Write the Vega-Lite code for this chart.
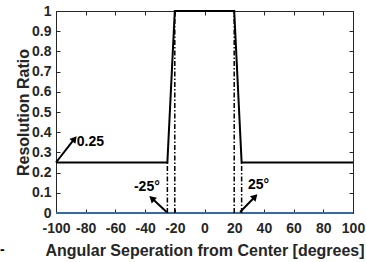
{
  "$schema": "https://vega.github.io/schema/vega-lite/v6.json",
  "width": 297,
  "height": 202,
  "autosize": {"type": "none"},
  "padding": {"left": 56, "top": 11, "right": 13, "bottom": 49},
  "background": "white",
  "config": {
    "view": {"stroke": "#262626", "strokeWidth": 1},
    "font": "Liberation Sans",
    "axis": {
      "labelFont": "Liberation Sans",
      "labelFontWeight": "bold",
      "labelFontSize": 14,
      "labelColor": "#262626",
      "labelFlush": false,
      "titleFont": "Liberation Sans",
      "titleFontWeight": "bold",
      "titleFontSize": 16,
      "titleColor": "#262626",
      "grid": false,
      "domain": false,
      "tickColor": "#262626",
      "tickSize": -4,
      "tickWidth": 1
    }
  },
  "datasets": {
    "curve": [
      {"x": -100, "y": 0.25}, {"x": -25, "y": 0.25}, {"x": -20, "y": 1},
      {"x": 20, "y": 1}, {"x": 25, "y": 0.25}, {"x": 100, "y": 0.25}
    ],
    "baseline": [{"x": -100, "y": 0}, {"x": 100, "y": 0}],
    "dashes": [
      {"x": -25, "y": 0, "y2": 0.25}, {"x": -20, "y": 0, "y2": 1},
      {"x": 20, "y": 0, "y2": 1}, {"x": 25, "y": 0, "y2": 0.25}
    ],
    "arrows": [
      {"id": "a", "x": -100, "y": 0.25, "hx": -88, "hy": 0.363},
      {"id": "b", "x": -25.5, "y": 0.005, "hx": -34.9, "hy": 0.069},
      {"id": "c", "x": 24, "y": 0.005, "hx": 33.5, "hy": 0.077}
    ],
    "labels": [
      {"t": "0.25", "x": -86, "y": 0.35},
      {"t": "-25°", "x": -47.5, "y": 0.131},
      {"t": "25°", "x": 29.3, "y": 0.139},
      {"t": "-", "x": -137.7, "y": -0.183}
    ]
  },
  "layer": [
    {
      "data": {"name": "baseline"},
      "mark": {"type": "line", "color": "#3a6aa3", "strokeWidth": 2},
      "encoding": {
        "x": {"field": "x", "type": "quantitative",
          "scale": {"domain": [-100, 100], "nice": false},
          "axis": {"orient": "bottom", "values": [-100, -80, -60, -40, -20, 0, 20, 40, 60, 80, 100],
            "labelExpr": "toString(datum.value)",
            "labelPadding": 12, "title": "Angular Seperation from Center [degrees]",
            "titleBaseline": "alphabetic", "titleY": 42, "labelOverlap": false}},
        "y": {"field": "y", "type": "quantitative",
          "scale": {"domain": [0, 1], "nice": false},
          "axis": {"orient": "left", "values": [0, 0.1, 0.2, 0.3, 0.4, 0.5, 0.6, 0.7, 0.8, 0.9, 1],
            "labelExpr": "toString(datum.value)", "labelPadding": 9, "title": "Resolution Ratio",
            "titleBaseline": "alphabetic", "titleX": -28, "labelOverlap": false}}
      }
    },
    {
      "data": {"name": "curve"},
      "mark": {"type": "line", "color": "#000000", "strokeWidth": 2},
      "encoding": {
        "x": {"field": "x", "type": "quantitative",
          "scale": {"domain": [-100, 100], "nice": false},
          "axis": {"orient": "top", "values": [-100, -80, -60, -40, -20, 0, 20, 40, 60, 80, 100],
            "labels": false, "title": null}},
        "y": {"field": "y", "type": "quantitative",
          "scale": {"domain": [0, 1], "nice": false},
          "axis": {"orient": "right", "values": [0, 0.1, 0.2, 0.3, 0.4, 0.5, 0.6, 0.7, 0.8, 0.9, 1],
            "labels": false, "title": null}}
      }
    },
    {
      "data": {"name": "dashes"},
      "mark": {"type": "rule", "color": "#000000", "strokeWidth": 1.5, "strokeDash": [5, 2, 1.5, 2]},
      "encoding": {
        "x": {"field": "x", "type": "quantitative", "scale": {"domain": [-100, 100], "nice": false}, "axis": null},
        "y": {"field": "y", "type": "quantitative", "scale": {"domain": [0, 1], "nice": false}, "axis": null},
        "y2": {"field": "y2"}
      }
    },
    {
      "data": {"name": "arrows"},
      "mark": {"type": "rule", "color": "#000000", "strokeWidth": 2},
      "encoding": {
        "x": {"field": "x", "type": "quantitative", "scale": {"domain": [-100, 100], "nice": false}, "axis": null},
        "y": {"field": "y", "type": "quantitative", "scale": {"domain": [0, 1], "nice": false}, "axis": null},
        "x2": {"field": "hx"},
        "y2": {"field": "hy"}
      }
    },
    {
      "data": {"name": "arrows"},
      "transform": [{"filter": "datum.id == 'a'"}],
      "mark": {"type": "point", "shape": "triangle", "size": 60, "filled": true, "color": "#000000", "opacity": 1, "angle": 39},
      "encoding": {
        "x": {"field": "hx", "type": "quantitative", "scale": {"domain": [-100, 100], "nice": false}, "axis": null},
        "y": {"field": "hy", "type": "quantitative", "scale": {"domain": [0, 1], "nice": false}, "axis": null}
      }
    },
    {
      "data": {"name": "arrows"},
      "transform": [{"filter": "datum.id == 'b'"}],
      "mark": {"type": "point", "shape": "triangle", "size": 60, "filled": true, "color": "#000000", "opacity": 1, "angle": 312},
      "encoding": {
        "x": {"field": "hx", "type": "quantitative", "scale": {"domain": [-100, 100], "nice": false}, "axis": null},
        "y": {"field": "hy", "type": "quantitative", "scale": {"domain": [0, 1], "nice": false}, "axis": null}
      }
    },
    {
      "data": {"name": "arrows"},
      "transform": [{"filter": "datum.id == 'c'"}],
      "mark": {"type": "point", "shape": "triangle", "size": 60, "filled": true, "color": "#000000", "opacity": 1, "angle": 44},
      "encoding": {
        "x": {"field": "hx", "type": "quantitative", "scale": {"domain": [-100, 100], "nice": false}, "axis": null},
        "y": {"field": "hy", "type": "quantitative", "scale": {"domain": [0, 1], "nice": false}, "axis": null}
      }
    },
    {
      "data": {"name": "labels"},
      "mark": {"type": "text", "align": "left", "baseline": "middle", "font": "Liberation Sans", "fontWeight": "bold", "fontSize": 14, "color": "#000000"},
      "encoding": {
        "x": {"field": "x", "type": "quantitative", "scale": {"domain": [-100, 100], "nice": false}, "axis": null},
        "y": {"field": "y", "type": "quantitative", "scale": {"domain": [0, 1], "nice": false}, "axis": null},
        "text": {"field": "t"}
      }
    }
  ]
}
